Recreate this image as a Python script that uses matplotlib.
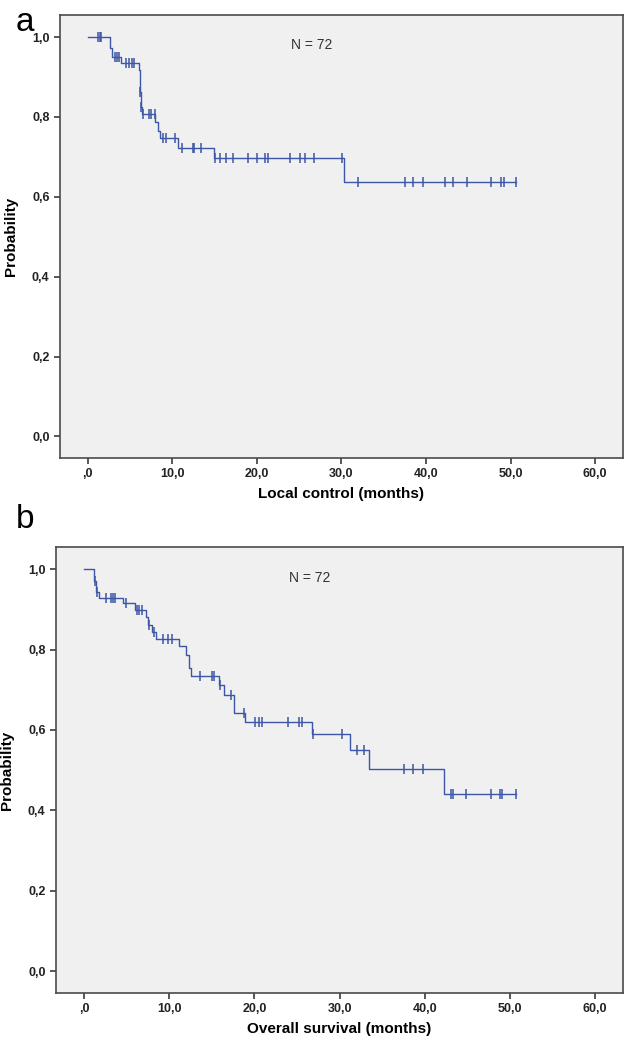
import numpy as np
import matplotlib
matplotlib.use("Agg")
import matplotlib.pyplot as plt
from matplotlib.ticker import FuncFormatter

plt.rcParams['font.family'] = ['Liberation Sans Narrow', 'Liberation Sans', 'DejaVu Sans']

# panel a: local control
lc_event_times = [2.6, 2.85, 3.9, 6.0, 6.15, 6.25, 6.4, 8.0, 8.3, 8.5, 10.7, 14.9, 30.3]
lc_event_surv = [0.972, 0.951, 0.936, 0.917, 0.862, 0.825, 0.808, 0.787, 0.765, 0.746,
                 0.722, 0.696, 0.637]
lc_censored = [1.2, 1.4, 1.6, 3.2, 3.45, 3.7, 4.55, 4.9, 5.2, 5.4, 6.2, 6.3, 6.5, 7.2,
               7.5, 7.9, 8.9, 9.2, 10.35, 11.1, 12.4, 12.6, 13.4, 15.0, 15.6, 16.3, 17.2,
               18.9, 20.0, 20.9, 21.3, 23.9, 25.1, 25.7, 26.7, 30.1, 32.0, 37.5, 38.5,
               39.7, 42.2, 43.2, 44.8, 47.7, 48.9, 49.2, 50.6]

# panel b: overall survival
os_event_times = [1.2, 1.4, 1.7, 4.6, 6.0, 7.3, 7.5, 8.0, 8.4, 11.1, 12.0, 12.3, 12.6,
                  15.8, 16.4, 17.6, 18.9, 26.8, 31.2, 33.5, 42.3]
os_event_surv = [0.971, 0.942, 0.927, 0.915, 0.898, 0.880, 0.862, 0.844, 0.826, 0.808,
                 0.786, 0.755, 0.733, 0.711, 0.687, 0.643, 0.620, 0.589, 0.550, 0.504,
                 0.440]
os_censored = [1.25, 1.5, 2.6, 3.2, 3.4, 3.6, 4.9, 6.2, 6.5, 6.8, 7.6, 8.2, 9.3, 9.9,
               10.3, 13.6, 15.0, 15.3, 16.0, 17.3, 18.8, 20.1, 20.5, 20.9, 24.0, 25.2,
               25.6, 26.9, 30.3, 32.1, 32.9, 37.6, 38.6, 39.8, 43.1, 43.3, 44.8, 47.8,
               48.9, 49.1, 50.7]

n_patients = 72
x_ticks = [0, 10, 20, 30, 40, 50, 60]
y_ticks = [0.0, 0.2, 0.4, 0.6, 0.8, 1.0]

LINE = '#3d56a6'
BG = '#f0f0f0'
FRAME = '#4a4a4a'


def surv_at(t, times, surv):
    s = 1.0
    for ti, si in zip(times, surv):
        if ti <= t:
            s = si
    return s


def km_panel(ax, times, surv, censored, xlabel):
    t_end = max(censored)
    xs = [0.0] + list(times) + [t_end]
    ys = [1.0] + list(surv) + [surv[-1]]
    ax.step(xs, ys, where='post', color=LINE, lw=1.0)
    cy = [surv_at(c, times, surv) for c in censored]
    ax.plot(censored, cy, ls='none', marker='|', ms=7, mew=1.1, color=LINE)

    ax.set_facecolor(BG)
    ax.set_xlim(-3.3, 63.3)
    ax.set_ylim(-0.054, 1.055)
    ax.set_xticks(x_ticks)
    ax.set_yticks(y_ticks)

    def fx(v, pos):
        s = '{:.1f}'.format(v).replace('.', ',')
        return s[1:] if s.startswith('0,') else s

    ax.xaxis.set_major_formatter(FuncFormatter(fx))
    ax.yaxis.set_major_formatter(FuncFormatter(lambda v, p: '{:.1f}'.format(v).replace('.', ',')))
    ax.tick_params(direction='out', length=4.5, width=1.3, color=FRAME,
                   labelsize=9, labelcolor='#222222', pad=3)
    for lbl in ax.get_xticklabels() + ax.get_yticklabels():
        lbl.set_fontweight('bold')
    for sp in ax.spines.values():
        sp.set_color(FRAME)
        sp.set_linewidth(1.2)
    ax.set_xlabel(xlabel, fontsize=11, fontweight='bold', labelpad=5,
                  family=['Liberation Sans', 'DejaVu Sans'])
    ax.set_ylabel('Probability', fontsize=11, fontweight='bold', labelpad=10,
                  family=['Liberation Sans', 'DejaVu Sans'])
    ax.text(26.5, 0.979, 'N = {}'.format(n_patients), ha='center', va='center',
            fontsize=10, color='#333333', family=['Liberation Sans', 'DejaVu Sans'])


fig = plt.figure(figsize=(6.28, 10.45), dpi=100)
ax_a = fig.add_axes([0.0955, 0.5617, 0.8965, 0.4239])
ax_b = fig.add_axes([0.0892, 0.0498, 0.903, 0.4268])

km_panel(ax_a, lc_event_times, lc_event_surv, lc_censored, 'Local control (months)')
km_panel(ax_b, os_event_times, os_event_surv, os_censored, 'Overall survival (months)')

fig.text(0.025, 0.993, 'a', fontsize=24, va='top', ha='left',
         family=['Liberation Sans', 'DejaVu Sans'])
fig.text(0.025, 0.5175, 'b', fontsize=24, va='top', ha='left',
         family=['Liberation Sans', 'DejaVu Sans'])

fig.savefig('out.png', dpi=100, facecolor='white')
